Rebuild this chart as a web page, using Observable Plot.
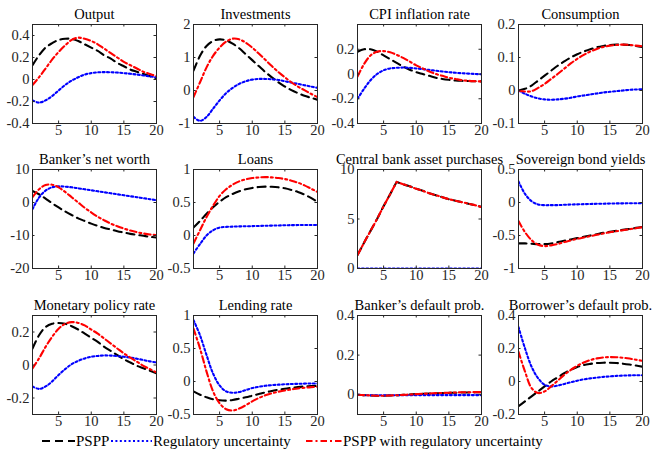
<!DOCTYPE html>
<html>
<head>
<meta charset="utf-8">
<script src="https://cdn.jsdelivr.net/npm/d3@7"></script>
<script src="https://cdn.jsdelivr.net/npm/@observablehq/plot@0.6"></script>
<style>
  body { margin: 0; background: #fff; }
  #fig { position: relative; width: 656px; height: 449px; font-family: "Liberation Serif", "Times New Roman", "DejaVu Serif", serif; overflow: hidden; }
  #fig > svg { position: absolute; overflow: visible; }
  .leg { position: absolute; font-size: 15px; color: #000; white-space: nowrap; line-height: 1; }
</style>
</head>
<body>
<div id="fig"></div>
<script>
// Quarters after the shock
const horizon = [1, 2, 3, 4, 5, 6, 7, 8, 9, 10, 11, 12, 13, 14, 15, 16, 17, 18, 19, 20];
const xTickValues = [5, 10, 15, 20];

const scenarios = ["PSPP", "Regulatory uncertainty", "PSPP with regulatory uncertainty"];

// Impulse responses, one array per variable and scenario
const outputPSPP = [0.13, 0.22, 0.29, 0.33, 0.36, 0.37, 0.37, 0.35, 0.32, 0.29, 0.26, 0.22, 0.19, 0.15, 0.12, 0.09, 0.07, 0.05, 0.03, 0.01];
const outputReg  = [-0.19, -0.21, -0.19, -0.15, -0.10, -0.05, -0.01, 0.02, 0.045, 0.058, 0.065, 0.067, 0.066, 0.063, 0.058, 0.052, 0.045, 0.037, 0.028, 0.02];
const outputBoth = [-0.05, 0.02, 0.10, 0.18, 0.25, 0.31, 0.36, 0.38, 0.37, 0.35, 0.32, 0.28, 0.24, 0.20, 0.16, 0.13, 0.10, 0.07, 0.05, 0.03];

const investPSPP = [0.6, 1.05, 1.35, 1.5, 1.55, 1.52, 1.42, 1.28, 1.1, 0.92, 0.74, 0.56, 0.4, 0.25, 0.12, 0.01, -0.08, -0.16, -0.22, -0.28];
const investReg  = [-0.8, -0.92, -0.8, -0.55, -0.3, -0.08, 0.08, 0.2, 0.28, 0.33, 0.35, 0.35, 0.34, 0.32, 0.28, 0.24, 0.2, 0.16, 0.12, 0.08];
const investBoth = [-0.2, 0.25, 0.7, 1.05, 1.3, 1.48, 1.57, 1.55, 1.45, 1.3, 1.12, 0.93, 0.74, 0.56, 0.4, 0.25, 0.12, 0.01, -0.1, -0.2];

const cpiPSPP = [0.18, 0.2, 0.2, 0.18, 0.15, 0.12, 0.09, 0.06, 0.035, 0.015, 0, -0.015, -0.03, -0.04, -0.047, -0.052, -0.055, -0.057, -0.058, -0.06];
const cpiReg  = [-0.2, -0.12, -0.05, 0, 0.03, 0.045, 0.05, 0.052, 0.05, 0.045, 0.04, 0.033, 0.027, 0.02, 0.015, 0.01, 0.006, 0.003, 0, -0.002];
const cpiBoth = [-0.02, 0.08, 0.15, 0.18, 0.185, 0.175, 0.155, 0.13, 0.1, 0.07, 0.045, 0.02, 0, -0.015, -0.03, -0.04, -0.05, -0.055, -0.058, -0.06];

const consPSPP = [0, 0.005, 0.015, 0.03, 0.045, 0.06, 0.075, 0.088, 0.1, 0.11, 0.118, 0.125, 0.131, 0.135, 0.138, 0.139, 0.139, 0.138, 0.135, 0.132];
const consReg  = [0, -0.01, -0.018, -0.024, -0.027, -0.028, -0.027, -0.025, -0.022, -0.018, -0.015, -0.012, -0.009, -0.006, -0.004, -0.002, 0, 0.002, 0.003, 0.004];
const consBoth = [0, -0.003, -0.002, 0.008, 0.02, 0.035, 0.05, 0.066, 0.082, 0.096, 0.108, 0.118, 0.126, 0.132, 0.136, 0.138, 0.139, 0.138, 0.136, 0.134];

const netWorthPSPP = [3.5, 2.5, 1.2, -0.2, -1.5, -2.7, -3.8, -4.8, -5.6, -6.4, -7.1, -7.7, -8.2, -8.7, -9.1, -9.5, -9.8, -10.1, -10.4, -10.6];
const netWorthReg  = [-2, 1.5, 3.6, 4.6, 4.9, 4.8, 4.6, 4.3, 4, 3.7, 3.4, 3.1, 2.8, 2.5, 2.2, 1.9, 1.6, 1.3, 1.0, 0.7];
const netWorthBoth = [1.6, 4, 5.3, 5.4, 4.6, 3.2, 1.6, 0, -1.6, -3.0, -4.3, -5.4, -6.4, -7.2, -7.9, -8.5, -9.0, -9.4, -9.7, -9.9];

const loansPSPP = [0.12, 0.22, 0.33, 0.43, 0.51, 0.58, 0.63, 0.67, 0.7, 0.72, 0.735, 0.74, 0.738, 0.73, 0.715, 0.69, 0.66, 0.62, 0.57, 0.51];
const loansReg  = [-0.27, -0.13, 0, 0.08, 0.12, 0.13, 0.135, 0.138, 0.14, 0.142, 0.145, 0.148, 0.15, 0.152, 0.155, 0.157, 0.158, 0.16, 0.16, 0.16];
const loansBoth = [-0.12, 0.08, 0.28, 0.45, 0.6, 0.7, 0.77, 0.82, 0.85, 0.87, 0.88, 0.885, 0.88, 0.87, 0.855, 0.83, 0.8, 0.76, 0.71, 0.66];

const purchPSPP = [1.35, 2.6, 3.8, 5.0, 6.3, 7.5, 8.75, 8.5, 8.3, 8.05, 7.85, 7.6, 7.4, 7.2, 7.0, 6.85, 6.7, 6.55, 6.4, 6.2];
const purchReg  = [0, 0, 0, 0, 0, 0, 0, 0, 0, 0, 0, 0, 0, 0, 0, 0, 0, 0, 0, 0];
const purchBoth = [1.35, 2.6, 3.8, 5.0, 6.3, 7.5, 8.75, 8.5, 8.3, 8.05, 7.85, 7.6, 7.4, 7.2, 7.0, 6.85, 6.7, 6.55, 6.4, 6.2];

const bondPSPP = [-0.62, -0.62, -0.625, -0.63, -0.63, -0.62, -0.6, -0.58, -0.56, -0.54, -0.52, -0.5, -0.48, -0.46, -0.445, -0.43, -0.415, -0.4, -0.385, -0.37];
const bondReg  = [0.32, 0.13, 0.02, -0.03, -0.04, -0.04, -0.04, -0.035, -0.03, -0.028, -0.025, -0.022, -0.02, -0.018, -0.016, -0.014, -0.013, -0.012, -0.011, -0.01];
const bondBoth = [-0.28, -0.45, -0.57, -0.64, -0.66, -0.65, -0.63, -0.6, -0.575, -0.55, -0.53, -0.51, -0.49, -0.47, -0.45, -0.435, -0.42, -0.405, -0.39, -0.375];

const policyPSPP = [0.1, 0.18, 0.23, 0.25, 0.255, 0.25, 0.235, 0.215, 0.19, 0.165, 0.14, 0.11, 0.085, 0.06, 0.035, 0.015, -0.005, -0.02, -0.035, -0.05];
const policyReg  = [-0.13, -0.145, -0.13, -0.1, -0.06, -0.025, 0.005, 0.025, 0.04, 0.05, 0.055, 0.058, 0.057, 0.054, 0.05, 0.045, 0.038, 0.03, 0.022, 0.015];
const policyBoth = [-0.02, 0.04, 0.11, 0.17, 0.22, 0.25, 0.26, 0.255, 0.24, 0.215, 0.19, 0.16, 0.13, 0.1, 0.07, 0.045, 0.02, -0.005, -0.025, -0.045];

const lendingPSPP = [-0.15, -0.2, -0.24, -0.27, -0.285, -0.29, -0.28, -0.26, -0.24, -0.215, -0.19, -0.165, -0.145, -0.125, -0.11, -0.095, -0.085, -0.075, -0.07, -0.065];
const lendingReg  = [0.93, 0.7, 0.4, 0.12, -0.06, -0.15, -0.17, -0.16, -0.13, -0.1, -0.08, -0.065, -0.055, -0.048, -0.042, -0.038, -0.035, -0.032, -0.03, -0.03];
const lendingBoth = [0.8, 0.5, 0.15, -0.15, -0.33, -0.42, -0.44, -0.41, -0.36, -0.3, -0.25, -0.21, -0.18, -0.155, -0.135, -0.12, -0.105, -0.095, -0.085, -0.08];

const bankDefPSPP = [0, -0.002, -0.004, -0.005, -0.005, -0.004, -0.003, -0.001, 0.001, 0.003, 0.004, 0.006, 0.007, 0.008, 0.009, 0.01, 0.011, 0.011, 0.012, 0.012];
const bankDefReg  = [0, -0.002, -0.003, -0.003, -0.003, -0.003, -0.003, -0.003, -0.002, -0.002, -0.002, -0.002, -0.002, -0.002, -0.002, -0.002, -0.002, -0.002, -0.002, -0.002];
const bankDefBoth = [0, -0.002, -0.004, -0.005, -0.005, -0.004, -0.003, -0.001, 0.001, 0.003, 0.005, 0.006, 0.008, 0.009, 0.01, 0.011, 0.012, 0.012, 0.013, 0.013];

const borrDefPSPP = [-0.15, -0.12, -0.09, -0.06, -0.03, 0, 0.025, 0.05, 0.07, 0.088, 0.1, 0.107, 0.112, 0.114, 0.114, 0.112, 0.108, 0.103, 0.097, 0.09];
const borrDefReg  = [0.33, 0.2, 0.09, 0.02, -0.02, -0.03, -0.025, -0.015, -0.005, 0.005, 0.013, 0.019, 0.024, 0.028, 0.031, 0.034, 0.036, 0.037, 0.038, 0.038];
const borrDefBoth = [0.18, 0.06, -0.04, -0.07, -0.06, -0.03, 0.005, 0.04, 0.07, 0.095, 0.115, 0.13, 0.14, 0.146, 0.148, 0.147, 0.144, 0.139, 0.132, 0.125];

// Panel titles, y ranges and y tick labels
const titles = ["Output", "Investments", "CPI inflation rate", "Consumption",
  "Banker\u2019s net worth", "Loans", "Central bank asset purchases", "Sovereign bond yields",
  "Monetary policy rate", "Lending rate", "Banker\u2019s default prob.", "Borrower\u2019s default prob."];
const yDomains = [[-0.4, 0.5], [-1, 2], [-0.4, 0.4], [-0.1, 0.2],
  [-20, 10], [-0.5, 1], [0, 10], [-1, 0.5],
  [-0.3, 0.3], [-0.5, 1], [-0.1, 0.4], [-0.2, 0.4]];
const yTickValues = [[-0.4, -0.2, 0, 0.2, 0.4], [-1, 0, 1, 2], [-0.4, -0.2, 0, 0.2], [-0.1, 0, 0.1, 0.2],
  [-20, -10, 0, 10], [-0.5, 0, 0.5, 1], [0, 5, 10], [-1, -0.5, 0, 0.5],
  [-0.2, 0, 0.2], [-0.5, 0, 0.5, 1], [0, 0.2, 0.4], [-0.2, 0, 0.2, 0.4]];
const seriesPSPP = [outputPSPP, investPSPP, cpiPSPP, consPSPP, netWorthPSPP, loansPSPP, purchPSPP, bondPSPP, policyPSPP, lendingPSPP, bankDefPSPP, borrDefPSPP];
const seriesReg  = [outputReg, investReg, cpiReg, consReg, netWorthReg, loansReg, purchReg, bondReg, policyReg, lendingReg, bankDefReg, borrDefReg];
const seriesBoth = [outputBoth, investBoth, cpiBoth, consBoth, netWorthBoth, loansBoth, purchBoth, bondBoth, policyBoth, lendingBoth, bankDefBoth, borrDefBoth];

// Line styles for the three scenarios
const styles = [
  {stroke: "#000000", strokeDasharray: "8,5"},
  {stroke: "#0000ff", strokeDasharray: "2,2.4"},
  {stroke: "#ff0000", strokeDasharray: "6.5,3,2,3"}
];

const serif = "'Liberation Serif', 'Times New Roman', 'DejaVu Serif', serif";
const fig = document.getElementById("fig");
const colLeft = [32, 193, 357, 518];
const rowTop = [24, 169, 315];
const W = 124, H = 99, ML = 34, MR = 8, MT = 24, MB = 22, TICK = 2.5;
const ink = "#262626";

titles.forEach((title, i) => {
  const all = [seriesPSPP[i], seriesReg[i], seriesBoth[i]];
  const curve = i === 6 ? "linear" : "catmull-rom";
  const lines = all.map((vals, s) => Plot.line(
    vals.map((v, j) => ({t: horizon[j], v, scenario: scenarios[s]})),
    {x: "t", y: "v", strokeWidth: 2.1, curve, clip: true, ...styles[s]}
  ));
  const yt = yTickValues[i];
  const svg = Plot.plot({
    width: ML + W + MR, height: MT + H + MB,
    marginLeft: ML, marginRight: MR, marginTop: MT, marginBottom: MB,
    x: {domain: [1, 20], label: null},
    y: {domain: yDomains[i], label: null},
    style: {fontFamily: serif, fontSize: "14.5px", color: ink, background: "transparent", overflow: "visible"},
    marks: [
      ...lines,
      Plot.frame({stroke: ink, strokeWidth: 1}),
      Plot.tickX(xTickValues, {x: d => d, insetTop: H - TICK, stroke: ink}),
      Plot.tickX(xTickValues, {x: d => d, insetBottom: H - TICK, stroke: ink}),
      Plot.tickY(yt, {y: d => d, insetRight: W - TICK, stroke: ink}),
      Plot.tickY(yt, {y: d => d, insetLeft: W - TICK, stroke: ink}),
      Plot.axisX(xTickValues, {tickSize: 0, tickPadding: 1, tickFormat: d => String(d), fill: ink, fontFamily: serif, fontSize: 14.5}),
      Plot.axisY(yt, {tickSize: 0, tickPadding: 3, tickFormat: d => String(d), fill: ink, fontFamily: serif, fontSize: 14.5}),
      Plot.text([title], {frameAnchor: "top", dy: -16, fontSize: 14.5, fill: "#000", fontFamily: serif, text: d => d})
    ]
  });
  svg.style.left = (colLeft[i % 4] - ML) + "px";
  svg.style.top = (rowTop[Math.floor(i / 4)] - MT) + "px";
  fig.appendChild(svg);
});

// Legend below the panels
const legendSample = [{x: 42, w: 33}, {x: 111, w: 41}, {x: 306, w: 36}];
scenarios.forEach((name, s) => {
  const sample = d3.create("svg")
    .attr("width", legendSample[s].w).attr("height", 8)
    .style("left", legendSample[s].x + "px").style("top", "437px");
  sample.append("line")
    .attr("x1", 0).attr("x2", legendSample[s].w).attr("y1", 4).attr("y2", 4)
    .attr("stroke", styles[s].stroke).attr("stroke-width", 2.1)
    .attr("stroke-dasharray", styles[s].strokeDasharray);
  fig.appendChild(sample.node());
  const label = document.createElement("div");
  label.className = "leg";
  label.textContent = name;
  label.style.left = (legendSample[s].x + legendSample[s].w + 1) + "px";
  label.style.top = "434px";
  fig.appendChild(label);
});
</script>
</body>
</html>
